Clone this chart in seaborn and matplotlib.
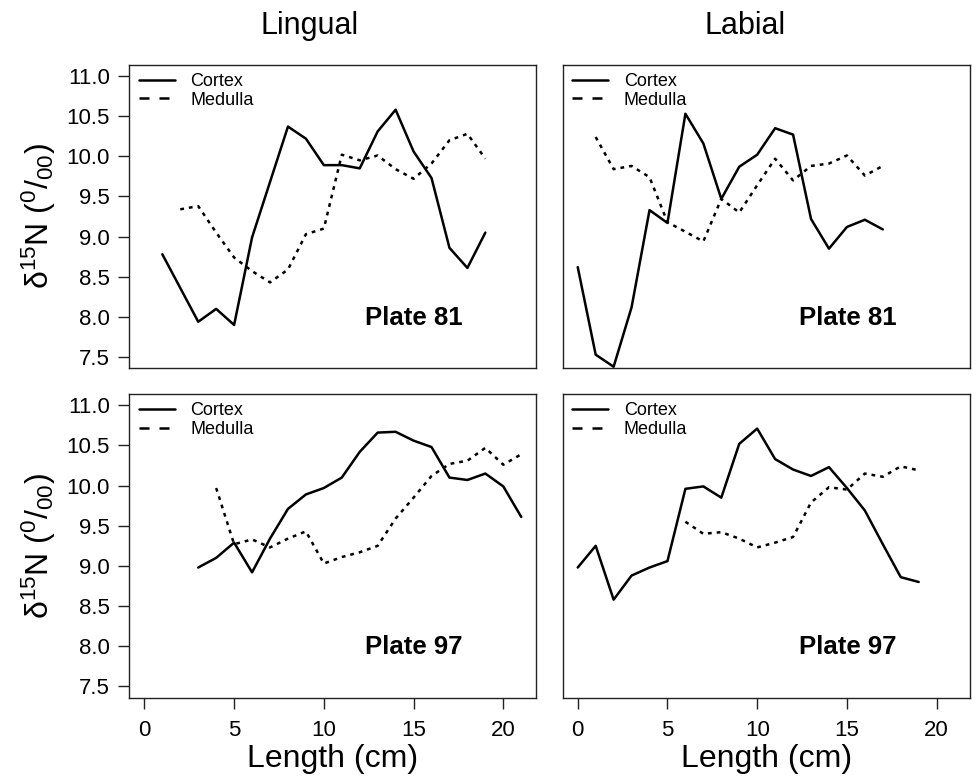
import numpy as np
import matplotlib
matplotlib.use("Agg")
import matplotlib.pyplot as plt
from matplotlib.lines import Line2D
import seaborn as sns

# Data (length in cm, delta 15N in per mil)
lingual81_cortex_x = [1, 3, 4, 5, 6, 7, 8, 9, 10, 11, 12, 13, 14, 15, 16, 17, 18, 19]
lingual81_cortex_y = [8.78, 7.94, 8.10, 7.90, 8.99, 9.68, 10.37, 10.22, 9.89, 9.89,
                      9.85, 10.31, 10.58, 10.06, 9.73, 8.86, 8.61, 9.05]
lingual81_medulla_x = list(range(2, 20))
lingual81_medulla_y = [9.34, 9.38, 9.05, 8.74, 8.57, 8.43, 8.59, 9.03, 9.10, 10.02,
                       9.95, 10.01, 9.84, 9.72, 9.91, 10.20, 10.28, 9.97]

labial81_cortex_x = list(range(0, 18))
labial81_cortex_y = [8.62, 7.53, 7.38, 8.12, 9.33, 9.17, 10.53, 10.16, 9.47, 9.87,
                     10.02, 10.35, 10.27, 9.22, 8.85, 9.12, 9.21, 9.09]
labial81_medulla_x = list(range(1, 18))
labial81_medulla_y = [10.24, 9.84, 9.88, 9.74, 9.18, 9.06, 8.94, 9.47, 9.30, 9.64,
                      9.97, 9.70, 9.88, 9.91, 10.01, 9.76, 9.88]

lingual97_cortex_x = list(range(3, 22))
lingual97_cortex_y = [8.98, 9.10, 9.29, 8.92, 9.34, 9.71, 9.89, 9.97, 10.10, 10.42,
                      10.66, 10.67, 10.56, 10.48, 10.10, 10.07, 10.15, 9.99, 9.61]
lingual97_medulla_x = list(range(4, 22))
lingual97_medulla_y = [9.97, 9.27, 9.33, 9.23, 9.34, 9.43, 9.03, 9.11, 9.17, 9.25,
                       9.59, 9.85, 10.12, 10.27, 10.31, 10.47, 10.26, 10.39]

labial97_cortex_x = list(range(0, 20))
labial97_cortex_y = [8.98, 9.25, 8.58, 8.88, 8.98, 9.06, 9.96, 9.99, 9.85, 10.52,
                     10.71, 10.33, 10.20, 10.12, 10.23, 9.97, 9.69, 9.27, 8.86, 8.80]
labial97_medulla_x = list(range(6, 20))
labial97_medulla_y = [9.55, 9.40, 9.42, 9.34, 9.23, 9.29, 9.36, 9.79, 9.98, 9.95,
                      10.15, 10.11, 10.24, 10.19]

column_titles = ["Lingual", "Labial"]
plate_labels = ["Plate 81", "Plate 97"]
x_ticks = [0, 5, 10, 15, 20]
y_ticks = [7.5, 8.0, 8.5, 9.0, 9.5, 10.0, 10.5, 11.0]

sns.set_theme(style="ticks")
plt.rcParams["font.family"] = ["Liberation Sans", "DejaVu Sans"]
plt.rcParams["mathtext.default"] = "regular"
plt.rcParams["text.color"] = "black"
plt.rcParams["axes.labelcolor"] = "black"
plt.rcParams["xtick.color"] = "black"
plt.rcParams["ytick.color"] = "black"

fig = plt.figure(figsize=(9.76, 7.82), dpi=100)
lefts = [0.1325, 0.5765]
bottoms = [0.529, 0.1079]
w, h = 0.4170, 0.3882

panels = [
    [(lingual81_cortex_x, lingual81_cortex_y, lingual81_medulla_x, lingual81_medulla_y),
     (labial81_cortex_x, labial81_cortex_y, labial81_medulla_x, labial81_medulla_y)],
    [(lingual97_cortex_x, lingual97_cortex_y, lingual97_medulla_x, lingual97_medulla_y),
     (labial97_cortex_x, labial97_cortex_y, labial97_medulla_x, labial97_medulla_y)],
]

lw = 1.8
for r in range(2):
    for c in range(2):
        ax = fig.add_axes([lefts[c], bottoms[r], w, h])
        cx, cy, mx, my = panels[r][c]
        sns.lineplot(x=cx, y=cy, ax=ax, color="black", lw=lw)
        sns.lineplot(x=mx, y=my, ax=ax, color="black", lw=lw, linestyle=(0, (1.5, 2.0)))
        ax.set_xlim(-0.84, 21.84)
        ax.set_ylim(7.36, 11.14)
        ax.set_xticks(x_ticks)
        ax.set_yticks(y_ticks)
        ax.set_yticklabels([f"{v:.1f}" for v in y_ticks])
        for sp in ax.spines.values():
            sp.set_visible(True)
            sp.set_linewidth(1.0)
            sp.set_color("#222222")
        ax.tick_params(axis="both", length=8, width=1.0, color="#222222",
                       labelsize=16, direction="out", labelcolor="black")
        ax.tick_params(axis="x", pad=8)
        ax.tick_params(axis="y", pad=6)
        if r == 0:
            ax.tick_params(axis="x", bottom=False, labelbottom=False)
        else:
            ax.set_xlabel("Length (cm)", fontsize=23, labelpad=2)
        if c == 1:
            ax.tick_params(axis="y", left=False, labelleft=False)
        else:
            ax.set_ylabel("δ$^{15}$N ($^{0}$/$_{00}$)", fontsize=23, labelpad=6)
        handles = [Line2D([], [], color="black", lw=lw),
                   Line2D([], [], color="black", lw=lw, linestyle=(0, (4.0, 4.0)))]
        ax.legend(handles, ["Cortex", "Medulla"], loc="upper left",
                  bbox_to_anchor=(0.015, 0.985), frameon=False, fontsize=13,
                  handlelength=2.0, handletextpad=0.85, labelspacing=0.1,
                  borderpad=0.2, borderaxespad=0)
        ax.text(0.70, 0.167, plate_labels[r], transform=ax.transAxes,
                ha="center", va="center", fontsize=18.5, fontweight="bold")

fig.text(310 / 976, 1 - 26 / 782, column_titles[0], ha="center", va="center", fontsize=22)
fig.text(745 / 976, 1 - 26 / 782, column_titles[1], ha="center", va="center", fontsize=22)

fig.savefig("out.png", dpi=100)
